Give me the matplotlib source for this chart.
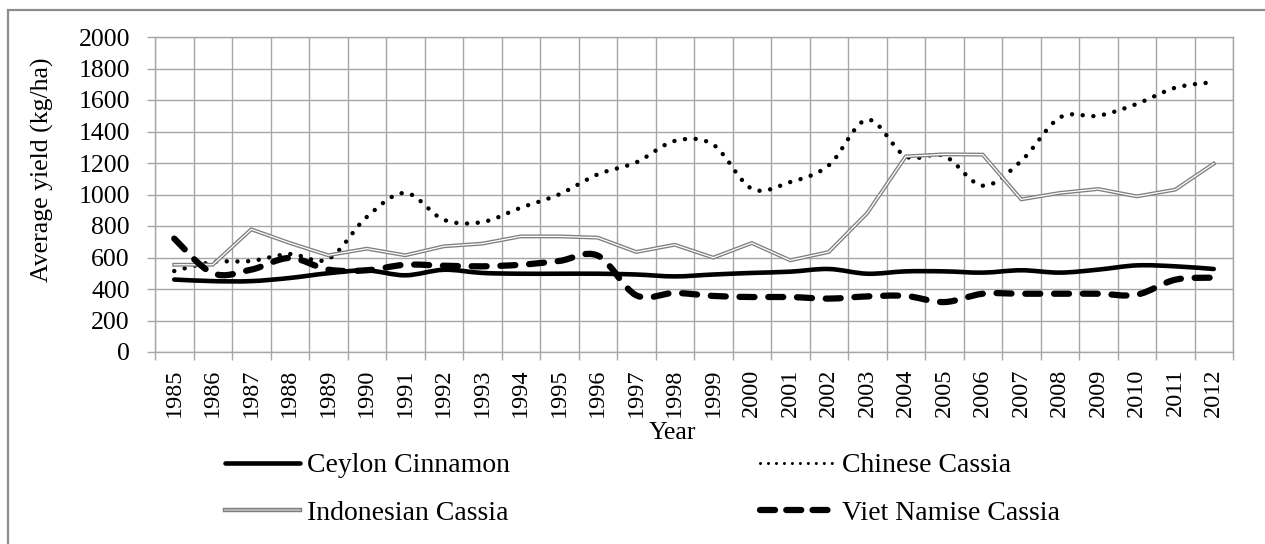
import numpy as np
import matplotlib
matplotlib.use("Agg")
import matplotlib.pyplot as plt
from matplotlib.path import Path
from matplotlib.patches import PathPatch, Rectangle
from matplotlib.lines import Line2D

years = list(range(1985, 2013))
ceylon = [460, 450, 450, 470, 500, 518, 487, 522, 502, 497, 497, 497, 492, 480,
          492, 502, 510, 527, 497, 512, 512, 504, 519, 504, 523, 550, 544, 527]
chinese = [514, 571, 578, 622, 590, 857, 1010, 840, 825, 916, 1001, 1128, 1204, 1340,
           1316, 1037, 1079, 1185, 1475, 1242, 1245, 1056, 1213, 1488, 1500, 1575, 1678, 1714]
indonesian = [554, 554, 779, 692, 614, 656, 614, 671, 688, 734, 734, 726, 635, 681,
              599, 692, 582, 635, 882, 1242, 1255, 1253, 969, 1010, 1035, 988, 1031, 1196]
viet = [720, 500, 523, 597, 523, 519, 554, 548, 544, 554, 578, 612, 360, 375,
        356, 349, 349, 339, 353, 356, 317, 370, 370, 370, 370, 364, 459, 472]
y_ticks = list(range(0, 2001, 200))

plt.rcParams['font.family'] = ['Liberation Serif', 'DejaVu Serif']

W, H = 1265, 544
fig = plt.figure(figsize=(W / 100, H / 100), dpi=100)
ax = fig.add_axes([155 / W, 1 - 352 / H, (1233 - 155) / W, (352 - 37) / H])

x = np.arange(len(years))


def smooth_path(xs, ys):
    pts = np.column_stack([xs, ys]).astype(float)
    n = len(pts)
    verts = [pts[0]]
    codes = [Path.MOVETO]
    for i in range(n - 1):
        p0 = pts[i - 1] if i > 0 else pts[i]
        p1 = pts[i]
        p2 = pts[i + 1]
        p3 = pts[i + 2] if i + 2 < n else pts[i + 1]
        c1 = p1 + (p2 - p0) / 6.0
        c2 = p2 - (p3 - p1) / 6.0
        verts += [c1, c2, p2]
        codes += [Path.CURVE4] * 3
    return Path(verts, codes)


grid_c = '#a6a6a6'
ceylon_kw = dict(color='black', lw=3.3, linestyle='-')
chinese_kw = dict(color='black', lw=3.2, linestyle=(0, (0.01, 2.4)))
viet_kw = dict(color='black', lw=4.5, linestyle=(0, (2.4, 2.2)))

ax.add_patch(PathPatch(smooth_path(x, ceylon), fill=False, zorder=4, joinstyle='round', capstyle='round', **ceylon_kw))
ax.add_patch(PathPatch(smooth_path(x, chinese), fill=False, zorder=4, capstyle='round', **chinese_kw))
ind_outer, = ax.plot(x, indonesian, color='#7f7f7f', lw=2.8, zorder=4, solid_joinstyle='miter')
ind_inner, = ax.plot(x, indonesian, color='white', lw=0.9, zorder=4, solid_joinstyle='miter')
ax.add_patch(PathPatch(smooth_path(x, viet), fill=False, zorder=5, capstyle='round', **viet_kw))

ax.set_xlim(-0.5, len(years) - 0.5)
ax.set_ylim(0, 2000)
ax.set_yticks(y_ticks)
ax.set_yticklabels([str(v) for v in y_ticks], fontsize=18.5)
ax.set_xticks(x)
ax.set_xticklabels([str(y) for y in years], rotation=90, fontsize=17.5)
ax.set_xticks(np.arange(len(years) + 1) - 0.5, minor=True)
ax.tick_params(axis='x', which='major', length=0, pad=12)
ax.tick_params(axis='x', which='minor', length=6, color=grid_c, width=1)
ax.tick_params(axis='y', which='major', length=6, color=grid_c, width=1, pad=12)
ax.grid(True, which='minor', axis='x', color=grid_c, lw=1)
ax.grid(True, which='major', axis='y', color=grid_c, lw=1)
ax.set_axisbelow(True)
for s in ax.spines.values():
    s.set_color(grid_c)
    s.set_linewidth(1)

fig.text(42 / W, 1 - 170 / H, 'Average yield (kg/ha)', rotation=90, ha='center', va='center', fontsize=18.5)
fig.text(672 / W, 1 - 433 / H, 'Year', ha='center', va='center', fontsize=18.5)

h_ceylon = Line2D([], [], solid_capstyle='round', **ceylon_kw)
h_chinese = Line2D([], [], color='black', lw=2.2, linestyle=(0, (0.01, 2.6)), dash_capstyle='round')
h_viet = Line2D([], [], color='black', lw=4.5, linestyle=(0, (2.4, 1.8)), dash_capstyle='round')
h_ind_o = Line2D([], [], color='#7f7f7f', lw=3.2)
h_ind_i = Line2D([], [], color='#bfbfbf', lw=1.2)

leg = fig.legend([h_ceylon, (h_ind_o, h_ind_i), h_chinese, h_viet],
                 ['Ceylon Cinnamon', 'Indonesian Cassia', 'Chinese Cassia', 'Viet Namise Cassia'],
                 ncol=2, loc='upper left', bbox_to_anchor=(225 / W, 1 - 453 / H),
                 frameon=False, fontsize=20, handlelength=2.7, handletextpad=0.25,
                 columnspacing=9.0, labelspacing=0.78, borderpad=0, borderaxespad=0)

fig.add_artist(Rectangle((8 / W, -0.05), 1.2, 1 - 10 / H + 0.05, transform=fig.transFigure,
                         fill=False, edgecolor='#8c8c8c', lw=1.6))

fig.savefig('out.png', dpi=100)
